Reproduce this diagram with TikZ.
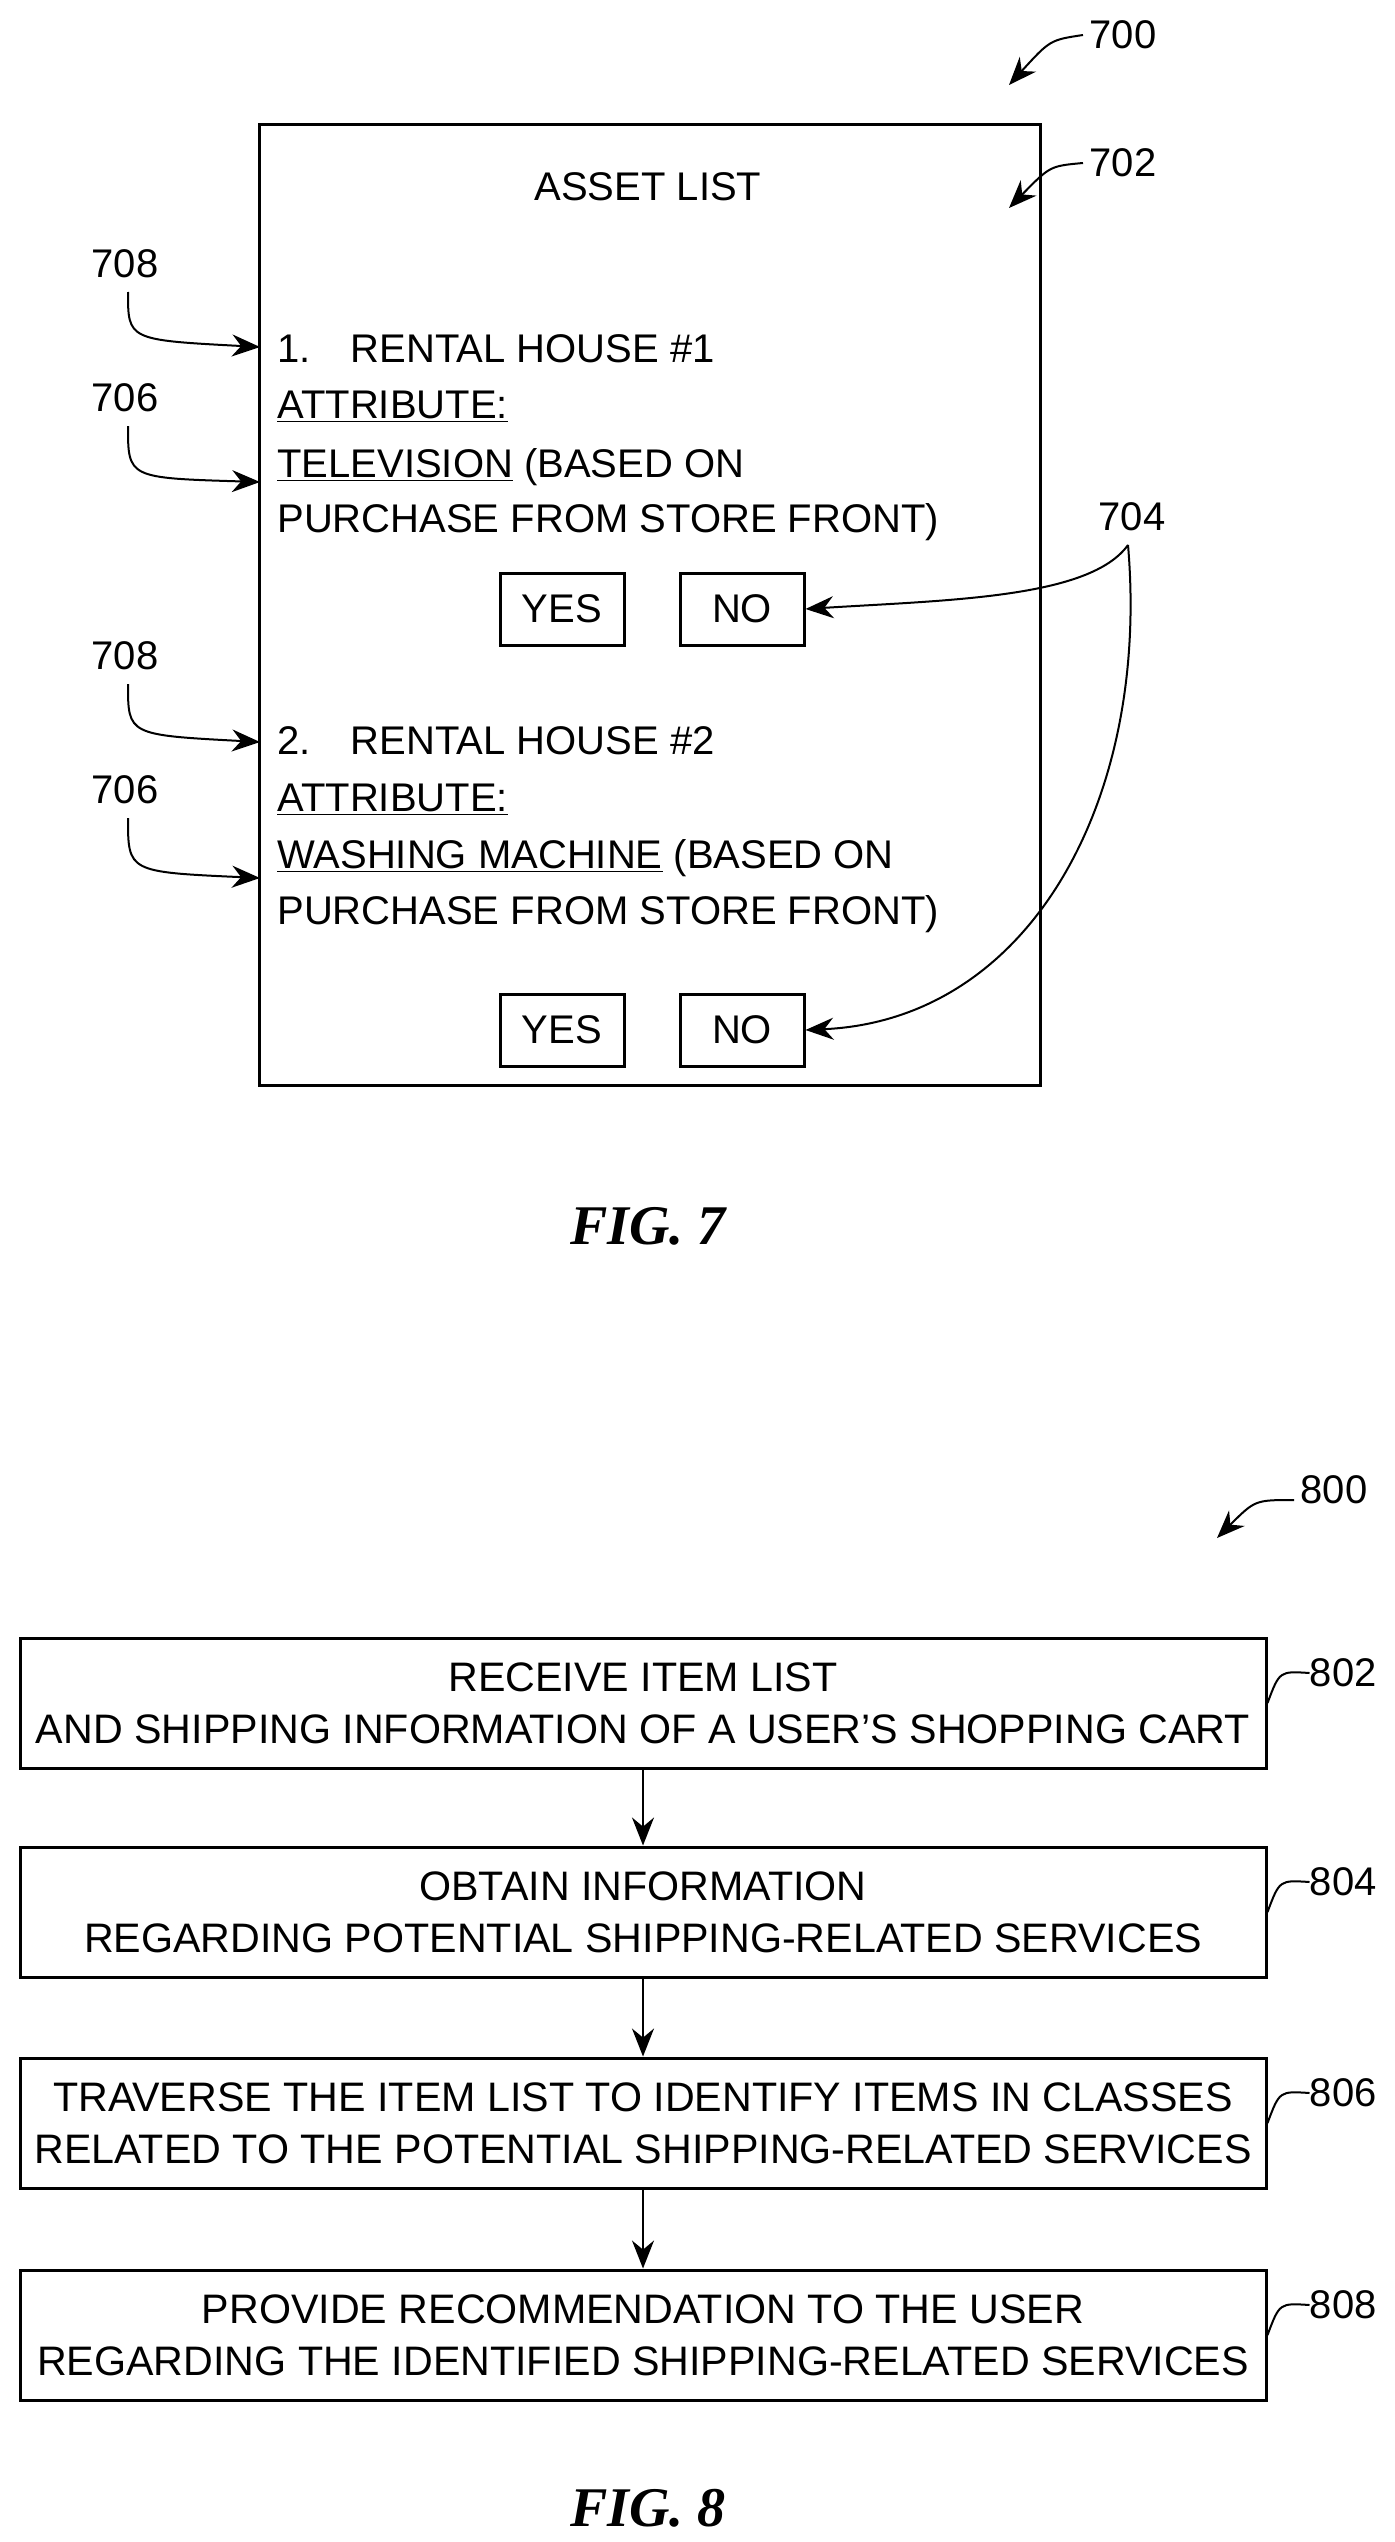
\documentclass[tikz,border=0pt]{standalone}
\usepackage{fontspec}
\setmainfont{Liberation Sans}
\newfontfamily\figfont{Liberation Serif}
\usetikzlibrary{arrows.meta}
\begin{document}
\begin{tikzpicture}[x=0.5pt,y=-0.5pt,
  txt/.style={anchor=base west,inner sep=0,font=\fontsize{20}{26}\selectfont},
  lab/.style={inner sep=0,font=\fontsize{20}{24}\selectfont},
  btn/.style={draw,line width=1.5pt,minimum width=62pt,minimum height=36pt,font=\fontsize{20}{24}\selectfont,inner sep=0},
  stepbox/.style={draw,line width=1.5pt,minimum width=623pt,minimum height=65pt,align=center,font=\fontsize{20.6}{26}\selectfont,inner sep=0},
  arr/.style={line width=1pt,-{Stealth[length=14pt,width=11pt]}},
  fig/.style={font=\figfont\bfseries\itshape\fontsize{28}{30}\selectfont}]
\useasboundingbox (0,0) rectangle (1395,2542);
% FIG 7
\node[lab] (l700) at (1123,35) {700};
\coordinate (t700) at (1009,85);
\draw[arr] (1083,35) .. controls (1050,40) .. (t700);
\draw[line width=1.5pt] (259,125) rectangle (1040,1085);
\node[lab] (title) at (648,187) {ASSET LIST};
\node[lab] (l702) at (1123,163) {702};
\coordinate (t702) at (1009,208);
\draw[arr] (1083,163) .. controls (1050,166) .. (t702);
\node[txt] (h1) at (277,362) {1.\hspace{20pt}RENTAL HOUSE \#1};
\node[txt] (a1) at (277,418) {\underline{ATTRIBUTE:}};
\node[txt] (t1) at (277,477) {\underline{TELEVISION} (BASED ON};
\node[txt] (p1) at (277,532) {PURCHASE FROM STORE FRONT)};
\node[btn] (y1) at (562,609) {YES};
\node[btn] (n1) at (742,609) {NO};
\node[txt] (h2) at (277,754) {2.\hspace{20pt}RENTAL HOUSE \#2};
\node[txt] (a2) at (277,811) {\underline{ATTRIBUTE:}};
\node[txt] (t2) at (277,868) {\underline{WASHING MACHINE} (BASED ON};
\node[txt] (p2) at (277,924) {PURCHASE FROM STORE FRONT)};
\node[btn] (y2) at (562,1030) {YES};
\node[btn] (n2) at (742,1030) {NO};
\node[lab] (l708a) at (125,264) {708};
\node[lab] (l706a) at (125,398) {706};
\node[lab] (l708b) at (125,656) {708};
\node[lab] (l706b) at (125,790) {706};
\node[lab] (l704) at (1132,517) {704};
\coordinate (e1) at (260,347);
\coordinate (e2) at (260,482);
\coordinate (e3) at (260,742);
\coordinate (e4) at (260,878);
\draw[arr] (128,292) .. controls (128,340) .. (e1);
\draw[arr] (128,426) .. controls (128,478) .. (e2);
\draw[arr] (128,684) .. controls (128,735) .. (e3);
\draw[arr] (128,818) .. controls (128,872) .. (e4);
\draw[arr] (1128,545) .. controls (1090,598) and (950,600) .. (n1.east);
\draw[arr] (1128,545) .. controls (1150,800) and (1030,1020) .. (n2.east);
\node[fig] (f7) at (648,1226) {FIG. 7};
% FIG 8
\node[lab] (l800) at (1334,1490) {800};
\coordinate (t800) at (1217,1538);
\draw[arr] (1294,1500) .. controls (1255,1500) .. (t800);
\node[stepbox] (s1) at (643,1703) {RECEIVE ITEM LIST\\AND SHIPPING INFORMATION OF A USER'S SHOPPING CART};
\node[stepbox] (s2) at (643,1912) {OBTAIN INFORMATION\\REGARDING POTENTIAL SHIPPING-RELATED SERVICES};
\node[stepbox] (s3) at (643,2123) {TRAVERSE THE ITEM LIST TO IDENTIFY ITEMS IN CLASSES\\RELATED TO THE POTENTIAL SHIPPING-RELATED SERVICES};
\node[stepbox] (s4) at (643,2335) {PROVIDE RECOMMENDATION TO THE USER\\REGARDING THE IDENTIFIED SHIPPING-RELATED SERVICES};
\draw[arr] (s1) -- (s2);
\draw[arr] (s2) -- (s3);
\draw[arr] (s3) -- (s4);
\foreach \n/\s in {802/s1,804/s2,806/s3,808/s4}{
  \node[lab,anchor=west] (l\n) at ([xshift=21pt,yshift=15pt]\s.east) {\n};
  \draw[line width=1pt] (\s.east) .. controls ([xshift=6pt,yshift=16pt]\s.east) .. (l\n.west);
}
\node[fig] (f8) at (648,2508) {FIG. 8};
\end{tikzpicture}
\end{document}
